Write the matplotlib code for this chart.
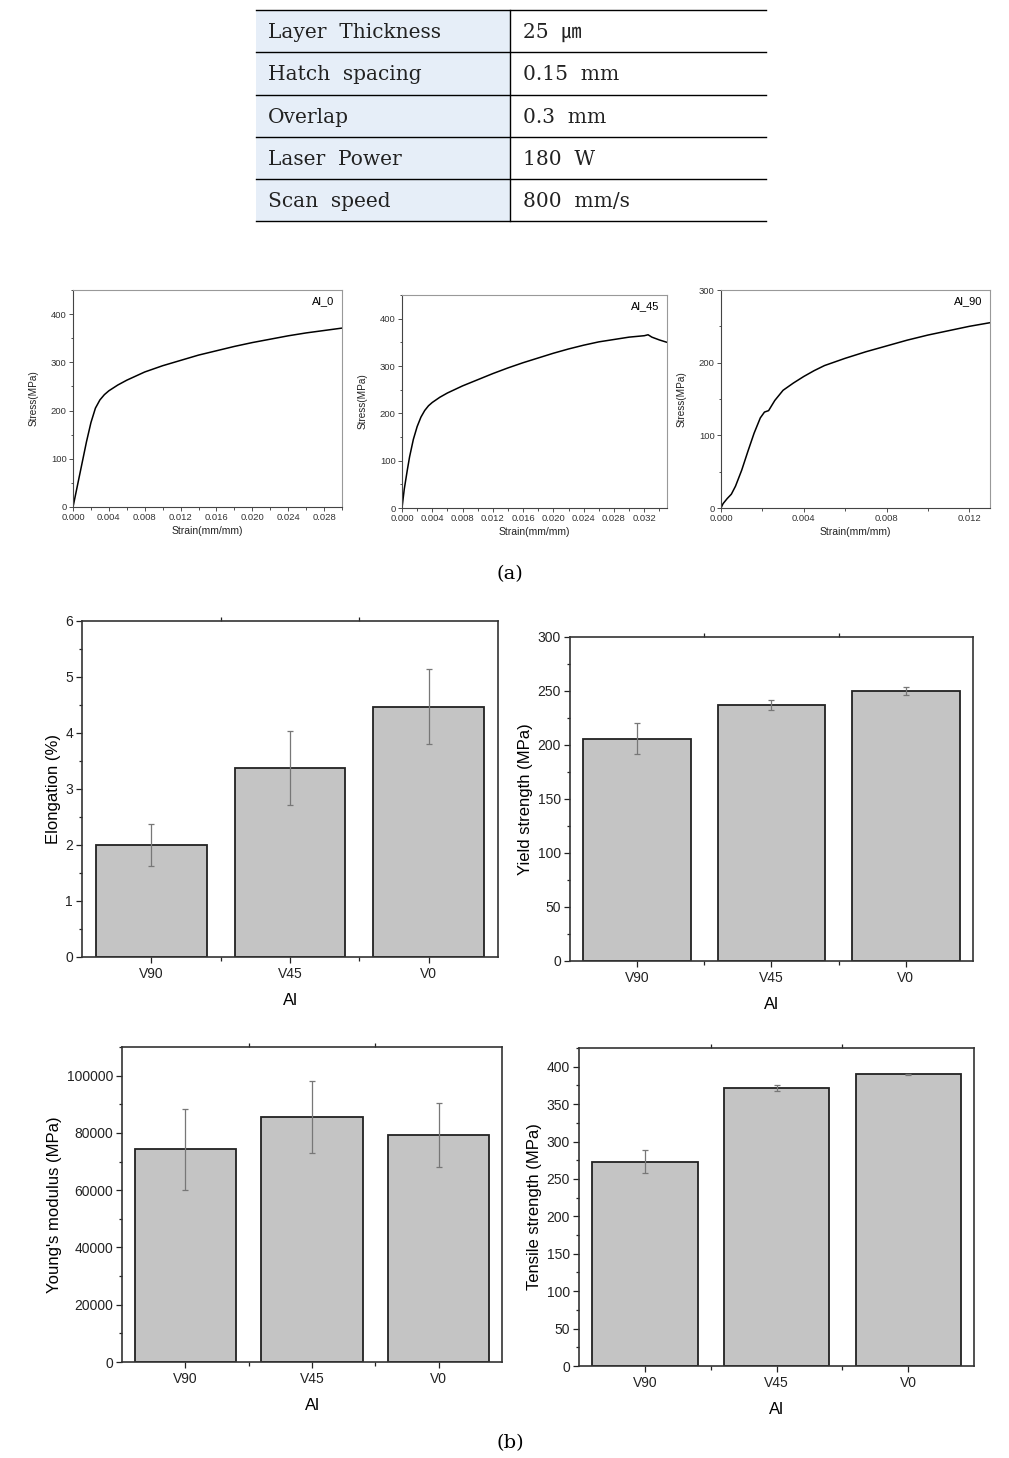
import numpy as np
import matplotlib
matplotlib.use("Agg")
import matplotlib.pyplot as plt
from matplotlib.ticker import MultipleLocator, FixedLocator

plt.rcParams['font.family'] = ['Liberation Sans', 'DejaVu Sans']

W, H = 1009, 1458

# process parameters table
param_names = ["Layer  Thickness", "Hatch  spacing", "Overlap", "Laser  Power", "Scan  speed"]
param_values = ["25  ㎛", "0.15  mm", "0.3  mm", "180  W", "800  mm/s"]

# stress-strain curves
strain_0 = [0.0, 0.0005, 0.001, 0.0015, 0.002, 0.0025, 0.003, 0.0035, 0.004, 0.005, 0.006,
            0.008, 0.010, 0.012, 0.014, 0.016, 0.018, 0.020, 0.022, 0.024, 0.026, 0.028, 0.030]
stress_0 = [0, 45, 90, 135, 175, 205, 222, 233, 241, 253, 263,
            280, 293, 304, 315, 324, 333, 341, 348, 355, 361, 366, 371]

strain_45 = [0.0, 0.0003, 0.0007, 0.001, 0.0015, 0.002, 0.0025, 0.003, 0.0035, 0.004, 0.005,
             0.006, 0.008, 0.010, 0.012, 0.014, 0.016, 0.018, 0.020, 0.022, 0.024, 0.026,
             0.028, 0.030, 0.032, 0.0325, 0.033, 0.034, 0.035]
stress_45 = [0, 40, 80, 108, 145, 172, 192, 206, 216, 223, 234,
             243, 258, 271, 284, 296, 307, 317, 327, 336, 344, 351,
             356, 361, 364, 366, 361, 355, 350]

strain_90 = [0.0, 0.0001, 0.0003, 0.0005, 0.0007, 0.001, 0.0013, 0.0016, 0.0019, 0.0021,
             0.0023, 0.0026, 0.003, 0.0035, 0.004, 0.0045, 0.005, 0.006, 0.007, 0.008, 0.009,
             0.010, 0.011, 0.012, 0.013]
stress_90 = [0, 6, 13, 19, 30, 52, 78, 103, 124, 132,
             134, 148, 162, 172, 181, 189, 196, 206, 215, 223, 231,
             238, 244, 250, 255]

curves = [("Al_0", strain_0, stress_0, 0.030, 450, 0.004, 100),
          ("Al_45", strain_45, stress_45, 0.035, 450, 0.004, 100),
          ("Al_90", strain_90, stress_90, 0.013, 300, 0.004, 100)]

# bar chart data
groups = ["V90", "V45", "V0"]
elong = [2.0, 3.37, 4.47]
elong_err = [0.38, 0.66, 0.67]
yield_s = [206, 237, 250]
yield_err = [14.5, 4.5, 4]
young = [74300, 85500, 79300]
young_err = [14200, 12500, 11200]
tensile = [273, 371, 390]
tensile_err = [15.5, 4, 0.8]

fig = plt.figure(figsize=(W / 100, H / 100), dpi=100)


def ax_px(l, t, r, b):
    return fig.add_axes([l / W, 1 - b / H, (r - l) / W, (b - t) / H])


# overlay for table and captions (pixel coordinates)
ov = fig.add_axes([0, 0, 1, 1])
ov.set_xlim(0, W)
ov.set_ylim(H, 0)
ov.axis('off')

row_y = [10, 52, 95, 137, 179, 221]
tx0, tx1, tdiv = 256, 766, 510
serif = ['DejaVu Serif', 'Noto Sans CJK KR']
for i in range(len(param_names)):
    ov.add_patch(plt.Rectangle((tx0, row_y[i]), tdiv - tx0, row_y[i + 1] - row_y[i],
                               facecolor='#e6eef8', edgecolor='none'))
    yc = (row_y[i] + row_y[i + 1]) / 2 + 1
    ov.text(268, yc, param_names[i], fontsize=14.5, va='center', ha='left',
            family=serif, color='#222222')
    ov.text(523, yc, param_values[i], fontsize=14.5, va='center', ha='left',
            family=serif, color='#222222')
for y in row_y:
    ov.plot([tx0, tx1], [y, y], color='black', lw=1.0)
ov.plot([tdiv, tdiv], [row_y[0], row_y[-1]], color='black', lw=1.0)

ov.text(510, 574, "(a)", fontsize=14, ha='center', va='center', family='DejaVu Serif')
ov.text(510, 1443, "(b)", fontsize=14, ha='center', va='center', family='DejaVu Serif')

# (a) stress-strain curves
boxes_a = [(73, 290, 342, 507), (402, 295, 667, 508), (721, 290, 990, 508)]
for (name, sx, sy, xmax, ymax, xstep, ystep), box in zip(curves, boxes_a):
    ax = ax_px(*box)
    ax.plot(sx, sy, color='black', lw=1.1)
    ax.set_xlim(0, xmax)
    ax.set_ylim(0, ymax)
    ax.xaxis.set_major_locator(MultipleLocator(xstep))
    ax.xaxis.set_minor_locator(MultipleLocator(xstep / 2))
    ax.yaxis.set_major_locator(MultipleLocator(ystep))
    ax.yaxis.set_minor_locator(MultipleLocator(ystep / 2))
    ax.xaxis.set_major_formatter(matplotlib.ticker.FormatStrFormatter('%.3f'))
    ax.tick_params(which='both', direction='out', labelsize=6.8, colors='#333333',
                   top=False, right=False, width=0.6, pad=1.5)
    ax.tick_params(which='major', length=3)
    ax.tick_params(which='minor', length=1.8)
    for s in ['left', 'bottom']:
        ax.spines[s].set_color('#444444')
        ax.spines[s].set_linewidth(0.8)
    for s in ['top', 'right']:
        ax.spines[s].set_color('#999999')
        ax.spines[s].set_linewidth(0.8)
    ax.set_xlabel("Strain(mm/mm)", fontsize=7.5, labelpad=3, color='#222222')
    ax.set_ylabel("Stress(MPa)", fontsize=7.2, labelpad=9, color='#222222')
    ax.text(0.97, 0.97, name, transform=ax.transAxes, fontsize=8, ha='right', va='top')

# (b) bar charts
bar_panels = [
    ((82, 621, 498, 957), elong, elong_err, "Elongation (%)", (0, 6), 1, 0.5),
    ((570, 637, 973, 961), yield_s, yield_err, "Yield strength (MPa)", (0, 300), 50, 25),
    ((122, 1047, 502, 1362), young, young_err, "Young's modulus (MPa)", (0, 110000), 20000, 10000),
    ((579, 1048, 974, 1366), tensile, tensile_err, "Tensile strength (MPa)", (0, 425), 50, 25),
]
xpos = np.arange(len(groups))
for box, vals, errs, ylab, ylim, major, minor in bar_panels:
    ax = ax_px(*box)
    ax.bar(xpos, vals, width=0.8, color='#c4c4c4', edgecolor='#222222', linewidth=1.3, zorder=2)
    ax.errorbar(xpos, vals, yerr=errs, fmt='none', ecolor='#777777', elinewidth=0.9,
                capsize=2.5, capthick=0.9, zorder=3)
    ax.set_xlim(-0.5, 2.5)
    ax.set_ylim(*ylim)
    ax.set_xticks(xpos)
    ax.set_xticklabels(groups)
    ax.xaxis.set_minor_locator(FixedLocator([0.5, 1.5]))
    ax.yaxis.set_major_locator(MultipleLocator(major))
    ax.yaxis.set_minor_locator(MultipleLocator(minor))
    ax.tick_params(which='both', direction='out', labelsize=10, colors='#222222',
                   right=False, width=0.9)
    ax.tick_params(axis='x', which='minor', top=True, bottom=True, length=3)
    ax.tick_params(axis='x', which='major', top=False, length=4.5, pad=3)
    ax.tick_params(axis='y', which='major', length=4.5, pad=2)
    ax.tick_params(axis='y', which='minor', length=2.5)
    for s in ax.spines.values():
        s.set_color('#333333')
        s.set_linewidth(1.2)
    ax.set_ylabel(ylab, fontsize=12, labelpad=3)
    ax.set_xlabel("Al", fontsize=12, labelpad=8)

fig.savefig("out.png", dpi=100)
